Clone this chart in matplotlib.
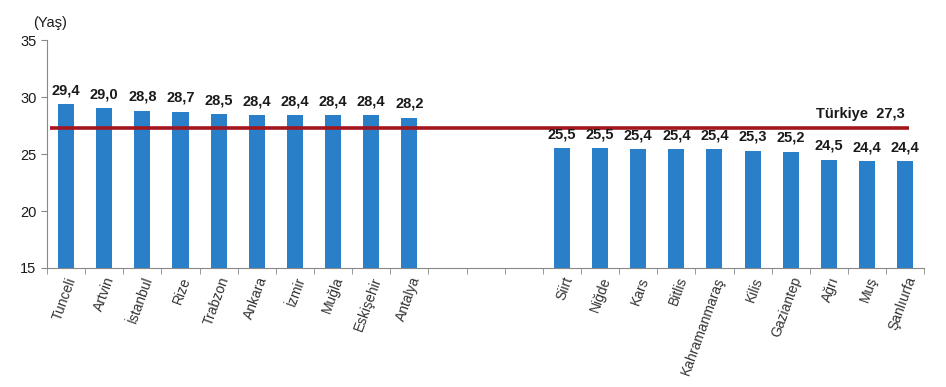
import matplotlib.pyplot as plt
import numpy as np

# en yuksek ve en dusuk illerin medyan yaslari
iller_ust = ["Tunceli", "Artvin", "İstanbul", "Rize", "Trabzon", "Ankara",
             "İzmir", "Muğla", "Eskişehir", "Antalya"]
yas_ust = [29.4, 29.0, 28.8, 28.7, 28.5, 28.4, 28.4, 28.4, 28.4, 28.2]
iller_alt = ["Siirt", "Niğde", "Kars", "Bitlis", "Kahramanmaraş", "Kilis",
             "Gaziantep", "Ağrı", "Muş", "Şanlıurfa"]
yas_alt = [25.5, 25.5, 25.4, 25.4, 25.4, 25.3, 25.2, 24.5, 24.4, 24.4]
turkiye = 27.3
bosluk = 3

plt.rcParams['font.family'] = ['Liberation Sans', 'DejaVu Sans']

isimler = iller_ust + [""] * bosluk + iller_alt
degerler = yas_ust + [np.nan] * bosluk + yas_alt
x = np.arange(len(isimler))

fig = plt.figure(figsize=(9.46, 3.87), dpi=100)
ax = fig.add_axes([0.0497, 0.3075, 0.9273, 0.5891])

renk = "#2a7fc9"
ax.bar(x, [0 if np.isnan(v) else v - 15 for v in degerler], bottom=15,
       width=0.42, color=renk)

for xi, v in zip(x, degerler):
    if not np.isnan(v):
        ax.text(xi, v + 0.6, f"{v:.1f}".replace(".", ","), ha="center",
                va="bottom", fontsize=10.5, fontweight="bold", color="#1a1a1a")

ax.plot([-0.42, 22.1], [turkiye, turkiye], color="#a3161d", lw=2.6,
        solid_capstyle="butt")
ax.text(22.0, turkiye + 0.6, "Türkiye  " + f"{turkiye:.1f}".replace(".", ","),
        ha="right", va="bottom", fontsize=10.5, fontweight="bold",
        color="#1a1a1a")

ax.set_xlim(-0.5, len(isimler) - 0.5)
ax.set_ylim(15, 35)
ax.set_yticks([15, 20, 25, 30, 35])
ax.tick_params(axis="y", labelsize=10.5, length=4, color="#888888",
               labelcolor="#1a1a1a")

ax.set_xticks(x)
ax.set_xticklabels(isimler, rotation=70, ha="right", rotation_mode="anchor",
                   fontsize=10, color="#333333")
ax.tick_params(axis="x", length=0, pad=5)
ax.set_xticks(np.arange(-0.5, len(isimler)), minor=True)
ax.tick_params(axis="x", which="minor", length=4, color="#888888")

for s in ["top", "right"]:
    ax.spines[s].set_visible(False)
ax.spines["left"].set_color("#888888")
ax.spines["bottom"].set_color("#888888")

fig.text(0.035, 0.93, "(Yaş)", fontsize=10.5, color="#1a1a1a")

fig.savefig("out.png", dpi=100)
